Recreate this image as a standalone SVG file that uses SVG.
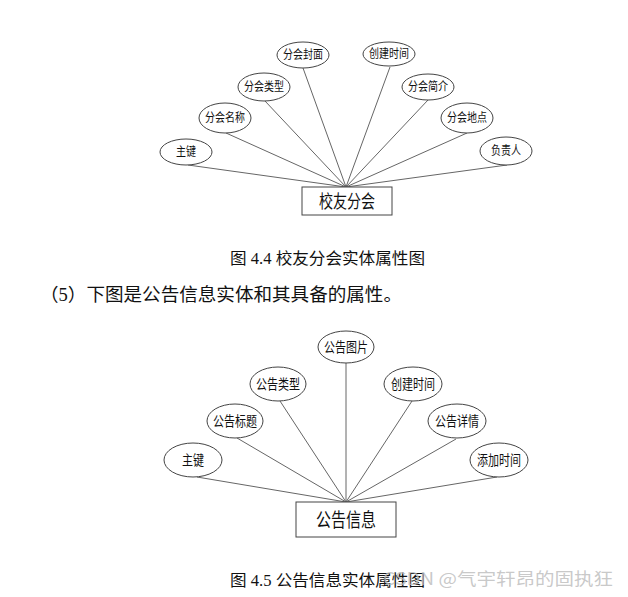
<svg xmlns="http://www.w3.org/2000/svg" width="628" height="597" viewBox="0 0 628 597">
<style>
.attr ellipse{fill:#fff;stroke:#444;stroke-width:1}
.ent rect{fill:#fff;stroke:#444;stroke-width:1}
.t1{font-family:"Noto Sans CJK SC","Noto Sans",sans-serif;font-size:12px;fill:#111;text-anchor:middle}
.t2{font-family:"Noto Sans CJK SC","Noto Sans",sans-serif;font-size:14px;fill:#111;text-anchor:middle}
.et{font-family:"Noto Sans CJK SC","Noto Sans",sans-serif;font-size:18px;fill:#111;text-anchor:middle}
.cap{font-family:"Liberation Serif","Noto Sans CJK SC",serif;font-size:16px;fill:#111}
.con line{stroke:#666;stroke-width:1}
</style>
<rect width="628" height="597" fill="#fff"/>

<g id="connectors" class="con">
<line x1="188" y1="165" x2="346" y2="187"/>
<line x1="226" y1="133" x2="346" y2="187"/>
<line x1="265" y1="101" x2="346" y2="187"/>
<line x1="303" y1="68" x2="346" y2="187"/>
<line x1="390" y1="67" x2="346" y2="187"/>
<line x1="428" y1="100" x2="346" y2="187"/>
<line x1="467" y1="133" x2="346" y2="187"/>
<line x1="507" y1="165" x2="346" y2="187"/>

<line x1="197" y1="477" x2="346" y2="502"/>
<line x1="237" y1="438" x2="346" y2="502"/>
<line x1="280" y1="401" x2="346" y2="502"/>
<line x1="346" y1="363" x2="346" y2="502"/>
<line x1="412" y1="401" x2="346" y2="502"/>
<line x1="456" y1="439" x2="346" y2="502"/>
<line x1="497" y1="477" x2="346" y2="502"/>
</g>

<!-- Diagram 4.4 -->
<g id="e1" class="ent"><rect x="302" y="187" width="90" height="28"/><text class="et" x="347" y="208" textLength="56" lengthAdjust="spacingAndGlyphs">校友分会</text></g>
<g id="a1" class="attr"><ellipse cx="186" cy="152" rx="26" ry="13"/><text class="t1" x="186" y="156" textLength="20" lengthAdjust="spacingAndGlyphs">主键</text></g>
<g id="a2" class="attr"><ellipse cx="225" cy="118" rx="26" ry="15"/><text class="t1" x="225" y="122" textLength="40" lengthAdjust="spacingAndGlyphs">分会名称</text></g>
<g id="a3" class="attr"><ellipse cx="264" cy="87" rx="26" ry="14"/><text class="t1" x="264" y="91" textLength="40" lengthAdjust="spacingAndGlyphs">分会类型</text></g>
<g id="a4" class="attr"><ellipse cx="303" cy="55" rx="26" ry="13"/><text class="t1" x="303" y="59" textLength="40" lengthAdjust="spacingAndGlyphs">分会封面</text></g>
<g id="a5" class="attr"><ellipse cx="389" cy="54" rx="26" ry="12"/><text class="t1" x="389" y="58" textLength="40" lengthAdjust="spacingAndGlyphs">创建时间</text></g>
<g id="a6" class="attr"><ellipse cx="428" cy="87" rx="26" ry="13"/><text class="t1" x="428" y="91" textLength="40" lengthAdjust="spacingAndGlyphs">分会简介</text></g>
<g id="a7" class="attr"><ellipse cx="467" cy="118" rx="26" ry="15"/><text class="t1" x="467" y="122" textLength="40" lengthAdjust="spacingAndGlyphs">分会地点</text></g>
<g id="a8" class="attr"><ellipse cx="506" cy="151" rx="26" ry="14"/><text class="t1" x="506" y="155" textLength="30" lengthAdjust="spacingAndGlyphs">负责人</text></g>

<text class="cap" x="230" y="264" textLength="195" lengthAdjust="spacingAndGlyphs">图 4.4 校友分会实体属性图</text>
<text class="cap" x="40" y="301" style="font-size:18px" textLength="362" lengthAdjust="spacingAndGlyphs">（5）下图是公告信息实体和其具备的属性。</text>

<!-- Diagram 4.5 -->
<g id="e2" class="ent"><rect x="296" y="502" width="100" height="35"/><text class="et" x="346" y="527" style="font-size:19px" textLength="60" lengthAdjust="spacingAndGlyphs">公告信息</text></g>
<g id="b1" class="attr"><ellipse cx="193" cy="460" rx="29" ry="17"/><text class="t2" x="193" y="465" textLength="22" lengthAdjust="spacingAndGlyphs">主键</text></g>
<g id="b2" class="attr"><ellipse cx="235" cy="421" rx="28" ry="17"/><text class="t2" x="235" y="426" textLength="44" lengthAdjust="spacingAndGlyphs">公告标题</text></g>
<g id="b3" class="attr"><ellipse cx="278" cy="384" rx="28" ry="17"/><text class="t2" x="278" y="389" textLength="44" lengthAdjust="spacingAndGlyphs">公告类型</text></g>
<g id="b4" class="attr"><ellipse cx="346" cy="347" rx="28" ry="16"/><text class="t2" x="346" y="352" textLength="44" lengthAdjust="spacingAndGlyphs">公告图片</text></g>
<g id="b5" class="attr"><ellipse cx="413" cy="384" rx="29" ry="17"/><text class="t2" x="413" y="389" textLength="44" lengthAdjust="spacingAndGlyphs">创建时间</text></g>
<g id="b6" class="attr"><ellipse cx="457" cy="421" rx="29" ry="17"/><text class="t2" x="457" y="426" textLength="44" lengthAdjust="spacingAndGlyphs">公告详情</text></g>
<g id="b7" class="attr"><ellipse cx="499" cy="460" rx="29" ry="17"/><text class="t2" x="499" y="465" textLength="44" lengthAdjust="spacingAndGlyphs">添加时间</text></g>

<text class="cap" x="230" y="586" textLength="195" lengthAdjust="spacingAndGlyphs">图 4.5 公告信息实体属性图</text>
<text x="383" y="585" style="font-family:'Noto Sans CJK SC','Noto Sans',sans-serif;font-size:17px;fill:#bbb;fill-opacity:0.8" textLength="230" lengthAdjust="spacingAndGlyphs">CSDN @气宇轩昂的固执狂</text>
</svg>
